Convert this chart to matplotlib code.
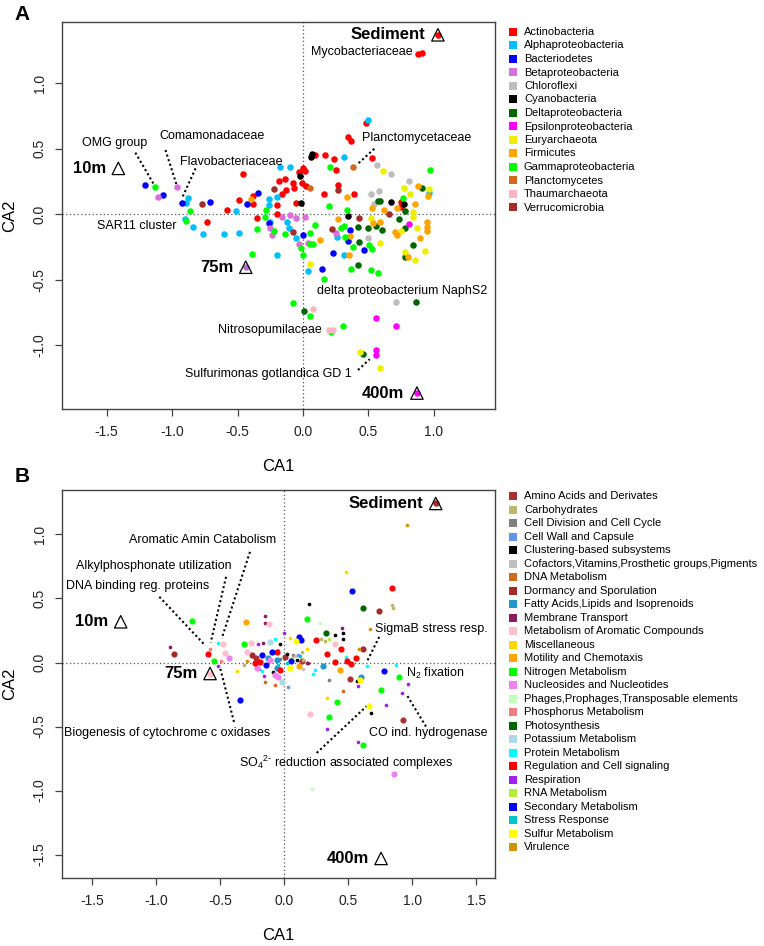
import matplotlib
matplotlib.use("Agg")
import matplotlib.pyplot as plt

plt.rcParams["font.family"] = ["Liberation Sans", "DejaVu Sans"]
plt.rcParams["mathtext.fontset"] = "custom"
plt.rcParams["mathtext.rm"] = "Liberation Sans"

# ---- panel A: taxa (CA1, CA2) ----
taxa = ["Actinobacteria", "Alphaproteobacteria", "Bacteriodetes", "Betaproteobacteria",
        "Chloroflexi", "Cyanobacteria", "Deltaproteobacteria", "Epsilonproteobacteria",
        "Euryarchaeota", "Firmicutes", "Gammaproteobacteria", "Planctomycetes",
        "Thaumarchaeota", "Verrucomicrobia"]
taxa_colors = ["#FF0000", "#00BFFF", "#0000FF", "#DA70D6", "#BEBEBE", "#000000", "#006400",
               "#FF00FF", "#EEEE00", "#FFA500", "#00FF00", "#D2691E", "#FFB6C1", "#A52A2A"]
actino = [(0.88, 1.22), (0.91, 1.23), (0.48, 0.70), (0.34, 0.59), (0.37, 0.56), (0.17, 0.45),
          (0.09, 0.45), (0.24, 0.42), (0.53, 0.43), (0.25, 0.34), (0.00, 0.356), (0.015, 0.33),
          (-0.03, 0.32), (-0.46, 0.305), (-0.18, 0.257), (-0.14, 0.267), (-0.08, 0.24),
          (-0.005, 0.237), (0.02, 0.216), (-0.07, 0.20), (-0.13, 0.185), (-0.16, 0.153),
          (0.16, 0.155), (0.27, 0.22), (0.39, 0.155), (0.75, 0.09), (0.745, 0.053),
          (-0.05, 0.089), (-0.20, 0.069), (-0.38, 0.142), (-0.49, 0.107), (-0.38, 0.076),
          (-0.58, 0.033), (-0.735, -0.061), (-0.35, -0.026), (-0.20, 0.0)]
alpha = [(0.50, 0.72), (0.31, 0.44), (-0.10, 0.36), (-0.173, 0.359), (-0.20, 0.134),
         (-0.26, 0.114), (-0.26, 0.07), (-0.51, 0.025), (-0.89, 0.089), (-0.88, 0.122),
         (0.965, 0.16), (-0.84, -0.097), (-0.76, -0.153), (-0.60, -0.148), (-0.49, -0.145),
         (-0.255, -0.06), (-0.12, -0.059), (-0.105, -0.107), (-0.053, -0.183), (0.26, -0.173),
         (-0.20, -0.313), (0.31, -0.31), (0.038, -0.433), (-0.90, -0.04)]
bacteroid = [(-1.206, 0.221), (-1.066, 0.148), (-0.92, 0.089), (-0.71, 0.09), (-0.34, 0.165),
             (-0.43, 0.081), (-0.26, -0.069), (-0.002, -0.156), (0.36, -0.122), (0.34, -0.206),
             (0.466, -0.275), (0.23, -0.298), (0.147, -0.42)]
beta = [(-0.959, 0.206), (-1.104, 0.135), (-0.25, -0.105), (-0.24, -0.156), (-0.16, -0.018),
        (-0.10, -0.005), (-0.05, -0.031), (0.015, -0.018), (-0.03, -0.227), (0.25, -0.145),
        (0.04, -0.22)]
chloro = [(0.565, 0.376), (0.67, 0.305), (0.52, 0.157), (0.58, 0.178), (0.81, 0.25),
          (0.54, 0.08), (0.50, -0.179), (0.71, -0.672)]
cyano = [(0.07, 0.46), (0.06, 0.435), (-0.02, 0.295), (-0.015, 0.084), (0.675, 0.094),
         (0.77, 0.075), (0.346, -0.015)]
delta = [(0.91, 0.20), (0.575, 0.10), (0.59, 0.10), (0.78, 0.025), (0.42, -0.097),
         (0.425, -0.214), (0.50, -0.107), (0.56, -0.09), (0.60, -0.12), (0.735, -0.038),
         (0.78, -0.107), (0.84, -0.234), (0.78, -0.328), (0.417, -0.387), (0.863, -0.672),
         (0.01, -0.743), (0.458, -1.07)]
epsilon = [(0.807, -0.074), (0.56, -0.794), (0.71, -0.853), (0.555, -1.036), (0.555, -1.079)]
eury = [(0.61, 0.33), (0.77, 0.20), (0.82, 0.153), (0.965, 0.19), (0.517, -0.028),
        (0.59, -0.221), (0.746, -0.132), (0.842, -0.018), (0.868, -0.107), (0.78, -0.285),
        (0.855, -0.35), (0.93, -0.283), (0.053, -0.379), (0.435, -1.056), (0.588, -1.173),
        (0.84, 0.02)]
firmi = [(0.335, 0.134), (0.88, 0.218), (0.957, 0.14), (0.53, 0.046), (0.62, 0.035),
         (0.72, 0.05), (0.855, 0.08), (-0.40, 0.114), (0.265, -0.036), (0.537, -0.064),
         (0.588, -0.056), (0.70, -0.133), (0.72, -0.16), (0.89, -0.179), (0.947, -0.056),
         (0.944, -0.10), (0.944, -0.13), (0.80, -0.33), (0.13, -0.199), (0.36, -0.166),
         (0.35, -0.31)]
gamma = [(0.97, 0.335), (0.21, 0.36), (0.766, 0.122), (0.20, 0.063), (0.335, 0.033),
         (-0.28, 0.033), (-0.86, 0.027), (-1.13, 0.211), (-0.89, -0.049), (-0.35, -0.112),
         (-0.29, -0.018), (-0.22, -0.125), (-0.14, -0.153), (-0.015, -0.26), (0.0, -0.31),
         (0.053, -0.229), (0.075, -0.229), (0.09, -0.082), (0.05, -0.145), (0.29, -0.102),
         (0.32, -0.176), (0.38, -0.252), (0.506, -0.237), (0.527, -0.267), (-0.39, -0.303),
         (0.158, -0.496), (0.366, -0.42), (0.52, -0.425), (0.57, -0.45), (-0.074, -0.68),
         (0.053, -0.776), (0.303, -0.853), (0.214, -0.90), (0.31, -0.09)]
plancto = [(0.38, 0.36), (0.053, 0.198)]
thaum = [(0.074, -0.725), (0.20, -0.886), (0.23, -0.886)]
verruco = [(-0.22, 0.19), (0.27, 0.185), (-0.77, 0.081), (-0.074, -0.133), (0.22, -0.115),
           (0.43, -0.031), (0.654, 0.0)]
taxa_points = [actino, alpha, bacteroid, beta, chloro, cyano, delta, epsilon, eury, firmi,
               gamma, plancto, thaum, verruco]

# depth sites: name, CA1, CA2, colour of the dot inside the triangle (None = empty)
sites_a = [("Sediment", 1.03, 1.37, "#FF0000"), ("10m", -1.41, 0.35, None),
           ("75m", -0.437, -0.405, "#B070D0"), ("400m", 0.87, -1.366, "#FF00FF")]
# labels: text, x, y, ha, leader line (x0, y0, x1, y1) or None
notes_a = [("Mycobacteriaceae", 0.84, 1.24, "right", None),
           ("Planctomycetaceae", 0.45, 0.58, "left", (0.425, 0.39, 0.545, 0.50)),
           ("OMG group", -1.69, 0.544, "left", (-1.28, 0.47, -1.14, 0.23)),
           ("Comamonadaceae", -1.10, 0.60, "left", (-1.05, 0.49, -0.965, 0.224)),
           ("Flavobacteriaceae", -0.94, 0.40, "left", (-0.82, 0.35, -0.925, 0.12)),
           ("SAR11 cluster", -1.575, -0.087, "left", None),
           ("delta proteobacterium NaphS2", 0.104, -0.59, "left", None),
           ("Nitrosopumilaceae", 0.147, -0.883, "right", None),
           ("Sulfurimonas gotlandica GD 1", 0.37, -1.22, "right", (0.42, -1.19, 0.51, -1.107))]

# ---- panel B: subsystems (CA1, CA2) ----
subsys = ["Amino Acids and Derivates", "Carbohydrates", "Cell Division and Cell Cycle",
          "Cell Wall and Capsule", "Clustering-based subsystems",
          "Cofactors,Vitamins,Prosthetic groups,Pigments", "DNA Metabolism",
          "Dormancy and Sporulation", "Fatty Acids,Lipids and Isoprenoids",
          "Membrane Transport", "Metabolism of Aromatic Compounds", "Miscellaneous",
          "Motility and Chemotaxis", "Nitrogen Metabolism", "Nucleosides and Nucleotides",
          "Phages,Prophages,Transposable elements", "Phosphorus Metabolism", "Photosynthesis",
          "Potassium Metabolism", "Protein Metabolism", "Regulation and Cell signaling",
          "Respiration", "RNA Metabolism", "Secondary Metabolism", "Stress Response",
          "Sulfur Metabolism", "Virulence"]
subsys_colors = ["#A83232", "#BDB76B", "#808080", "#6495ED", "#000000", "#C0C0C0", "#D2691E",
                 "#A52A2A", "#1E9AC8", "#8B1C62", "#FFC0CB", "#FFD700", "#FFA500", "#00FF00",
                 "#EE82EE", "#C1FFC1", "#F08080", "#006400", "#ADD8E6", "#00FFFF", "#FF0000",
                 "#A020F0", "#B3EE3A", "#0000FF", "#00C5CD", "#FFFF00", "#CD950C"]
big = [True, False, False, False, False, False, False, True, True, False, True, False, True,
       True, True, False, False, True, True, False, True, False, False, True, False, True, False]
amino = [(-0.221, 0.039), (0.005, 0.044), (0.141, 0.01), (0.513, -0.128), (0.924, -0.45)]
carbo = [(0.839, 0.448), (0.852, 0.424), (0.284, 0.18), (0.318, 0.167), (0.135, 0.083),
         (0.148, 0.018), (-0.313, -0.016)]
celldiv = [(0.349, -0.138), (0.07, 0.06), (-0.03, 0.03)]
cellwall = [(0.031, -0.19), (0.11, 0.06), (-0.20, -0.05)]
cluster = [(0.195, 0.456), (0.398, 0.214), (0.456, 0.234), (0.456, 0.18), (-0.031, 0.143),
           (0.57, -0.141), (0.674, -0.393), (-0.086, -0.073), (0.018, 0.065), (0.096, 0.023)]
cofact = [(0.08, 0.05), (-0.05, 0.10), (0.15, -0.05)]
dna = [(0.461, -0.219), (-0.151, -0.151), (-0.073, -0.172)]
dormancy = [(0.742, 0.406), (0.617, 0.102), (-0.859, 0.07), (-0.25, 0.06)]
fatty = [(-0.125, 0.039), (-0.06, 0.018), (0.302, -0.029), (0.599, -0.112), (-0.06, -0.039)]
membrane = [(0.45, 0.273), (-0.151, 0.365), (-0.151, 0.305), (0.188, -0.003), (-0.893, 0.122),
            (-0.164, 0.154), (0.174, 0.0)]
aromatic = [(0.396, 0.143), (-0.117, 0.302), (-0.26, 0.154), (-0.292, 0.081), (-0.477, 0.141),
            (-0.461, 0.076), (0.2, -0.401)]
misc = [(0.044, 0.195), (0.48, 0.703), (0.331, -0.276), (-0.372, -0.068), (0.174, 0.109)]
motility = [(-0.30, 0.32), (0.117, -0.029), (0.4375, -0.055)]
nitrogen = [(0.177, 0.339), (-0.315, 0.148), (0.898, -0.117), (0.753, -0.214), (0.409, -0.307),
            (0.349, -0.424), (0.617, -0.648), (-0.549, 0.013), (-0.724, 0.326)]
nucleo = [(0.859, -0.867), (-0.073, -0.099), (-0.047, -0.112), (-0.43, 0.039), (-0.112, 0.023),
          (-0.216, -0.039)]
phages = [(0.279, 0.31), (0.214, -0.984)]
phosph = [(-0.581, 0.102), (-0.492, 0.01), (-0.10, 0.08)]
photo = [(0.615, 0.422), (0.323, 0.232)]
potass = [(-0.112, 0.161), (-0.021, -0.154)]
protein = [(-0.073, 0.182), (0.479, 0.044), (0.237, -0.055), (0.227, -0.089), (0.643, -0.029),
           (0.87, -0.016), (-0.518, 0.154), (-0.177, -0.065)]
regul = [(0.839, 0.583), (0.443, 0.104), (0.245, 0.172), (-0.055, 0.083), (-0.19, 0.005),
         (0.333, 0.065), (0.398, 0.005), (0.487, 0.008), (0.523, -0.008), (0.5625, 0.039),
         (-0.596, 0.07), (-0.034, -0.06), (-0.229, 0.0)]
respir = [(0.0, 0.234), (-0.203, 0.143), (0.578, -0.18), (0.969, -0.169), (0.922, -0.242),
          (0.792, -0.333), (0.336, -0.518), (0.578, -0.62), (-0.159, -0.104), (-0.516, -0.029)]
rna = [(0.057, 0.039), (0.35, 0.18)]
second = [(0.529, 0.56), (0.112, 0.20), (0.133, 0.174), (-0.177, 0.057), (-0.099, 0.083),
          (0.049, 0.013), (0.776, -0.065), (-0.346, -0.294), (-0.143, -0.021)]
stress = [(0.02, 0.0), (-0.05, -0.02), (0.12, 0.05)]
sulfur = [(0.089, 0.169), (0.044, -0.039), (0.594, -0.133), (0.664, -0.339)]
virul = [(0.669, 0.26), (0.586, 0.102), (0.961, 1.07), (-0.294, 0.01)]
subsys_points = [amino, carbo, celldiv, cellwall, cluster, cofact, dna, dormancy, fatty,
                 membrane, aromatic, misc, motility, nitrogen, nucleo, phages, phosph, photo,
                 potass, protein, regul, respir, rna, second, stress, sulfur, virul]

sites_b = [("Sediment", 1.183, 1.242, "#A52A2A"), ("10m", -1.278, 0.318, None),
           ("75m", -0.58, -0.086, "#FFC0CB"), ("400m", 0.756, -1.53, None)]
notes_b = [("Aromatic Amin Catabolism", -1.213, 0.955, "left", (-0.268, 0.864, -0.489, 0.187)),
           ("Alkylphosphonate utilization", -1.627, 0.752, "left", (-0.455, 0.669, -0.575, 0.156)),
           ("DNA binding reg. proteins", -1.705, 0.599, "left", (-0.976, 0.513, -0.627, 0.143)),
           ("Biogenesis of cytochrome c oxidases", -1.72, -0.547, "left",
            (-0.393, -0.464, -0.503, -0.034)),
           ("SigmaB stress resp.", 0.709, 0.26, "left", (0.651, 0.018, 0.748, 0.213)),
           ("N$_2$ fixation", 0.95, -0.086, "left", None),
           ("CO ind. hydrogenase", 0.664, -0.548, "left", (1.107, -0.50, 0.955, -0.25)),
           ("SO$_4$$^{2\u2010}$ reduction associated complexes", -0.352, -0.784, "left",
            (0.253, -0.706, 0.643, -0.341))]

W, H = 764, 946
fig = plt.figure(figsize=(W / 100, H / 100), dpi=100)
axA = fig.add_axes([62 / W, 1 - 409.3 / H, 433 / W, 387.6 / H])
axB = fig.add_axes([61.8 / W, 1 - 878.3 / H, 433.2 / W, 388.3 / H])


def style(ax, xlim, ylim, xticks, yticks):
    ax.set_xlim(*xlim)
    ax.set_ylim(*ylim)
    ax.set_xticks(xticks)
    ax.set_yticks(yticks)
    ax.set_xticklabels([f"{t:.1f}" for t in xticks])
    ax.set_yticklabels([f"{t:.1f}" for t in yticks], rotation=90, va="center")
    ax.tick_params(direction="out", length=5, width=0.9, labelsize=10, pad=6,
                   color="#444444", labelcolor="#222222")
    for s in ax.spines.values():
        s.set_color("#444444")
        s.set_linewidth(1.0)
    ax.axhline(0, color="#555555", lw=0.9, ls=(0, (1, 2)), zorder=1)
    ax.axvline(0, color="#555555", lw=0.9, ls=(0, (1, 2)), zorder=1)
    ax.set_xlabel("CA1", fontsize=12)
    ax.set_ylabel("CA2", fontsize=12)
    ax.xaxis.set_label_coords(0.5, -0.128)
    ax.yaxis.set_label_coords(-0.104, 0.5)


def annotate(ax, sites, notes):
    for name, x, y, fill in sites:
        if fill:
            ax.scatter(x, y, s=22, color=fill, lw=0, zorder=4)
        ax.scatter(x, y, s=80, marker="^", facecolor="none", edgecolor="black",
                   lw=0.9, zorder=5)
        ax.annotate(name, (x, y), xytext=(-9, 0), textcoords="offset points",
                    ha="right", va="center", fontsize=12, fontweight="bold")
    for text, x, y, ha, line in notes:
        ax.text(x, y, text, ha=ha, va="center", fontsize=9)
        if line:
            ax.plot(line[0::2], line[1::2], color="black", lw=1.5, ls=(0, (1, 1.3)), zorder=2)


style(axA, (-1.84, 1.466), (-1.49, 1.47), [-1.5, -1.0, -0.5, 0.0, 0.5, 1.0],
      [-1.0, -0.5, 0.0, 0.5, 1.0])
for pts, c in zip(taxa_points, taxa_colors):
    xs, ys = zip(*pts)
    axA.scatter(xs, ys, s=22, color=c, lw=0, zorder=3)
annotate(axA, sites_a, notes_a)

style(axB, (-1.738, 1.646), (-1.685, 1.347), [-1.5, -1.0, -0.5, 0.0, 0.5, 1.0, 1.5],
      [-1.5, -1.0, -0.5, 0.0, 0.5, 1.0])
for pts, c, b in zip(subsys_points, subsys_colors, big):
    xs, ys = zip(*pts)
    axB.scatter(xs, ys, s=20 if b else 7, color=c, lw=0, zorder=3)
annotate(axB, sites_b, notes_b)

# legends drawn in figure pixel space, one row per category
lay = fig.add_axes([0, 0, 1, 1], facecolor="none")
lay.set_xlim(0, W)
lay.set_ylim(H, 0)
lay.axis("off")
for i, (lab, c) in enumerate(zip(taxa, taxa_colors)):
    lay.scatter(513, 32 + 13.5 * i, marker="s", s=28, color=c, lw=0)
    lay.text(524, 32 + 13.5 * i, lab, va="center", fontsize=8)
for i, (lab, c) in enumerate(zip(subsys, subsys_colors)):
    lay.scatter(513, 496 + 13.5 * i, marker="s", s=28, color=c, lw=0)
    lay.text(524, 496 + 13.5 * i, lab, va="center", fontsize=8)

fig.text(14 / W, 1 - 14 / H, "A", fontsize=15, fontweight="bold", va="center")
fig.text(15 / W, 1 - 476 / H, "B", fontsize=15, fontweight="bold", va="center")

fig.savefig("out.png", dpi=100)
